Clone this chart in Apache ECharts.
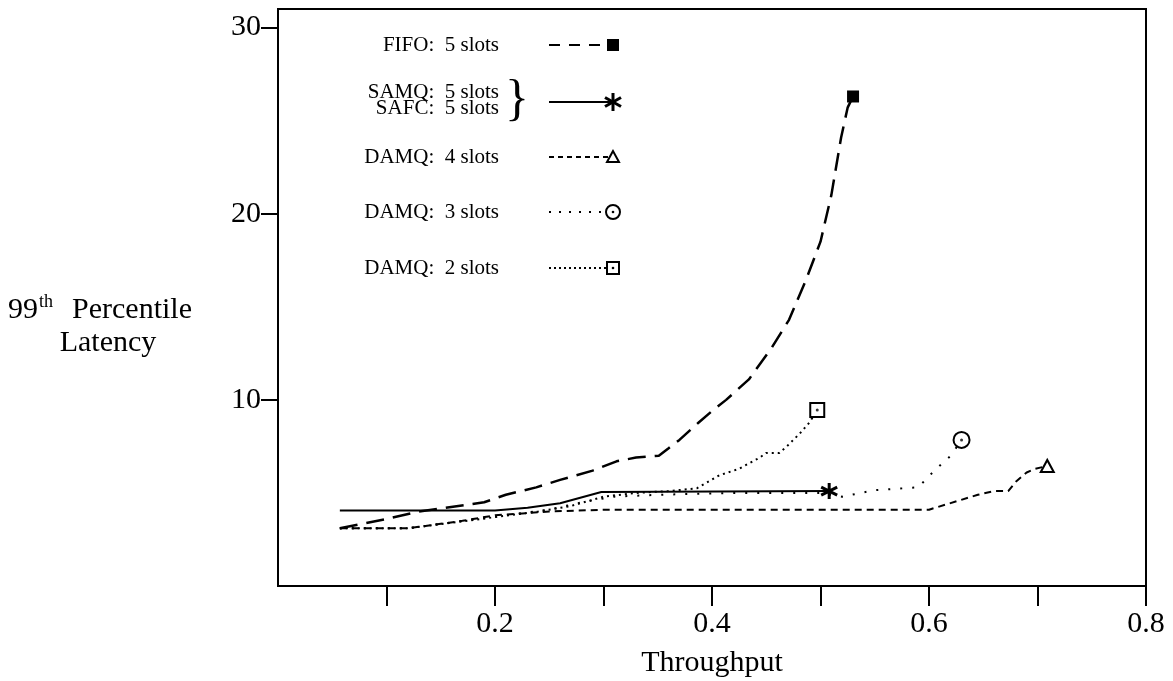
<!DOCTYPE html>
<html><head><meta charset="utf-8">
<script src="https://cdn.jsdelivr.net/npm/echarts@6/dist/echarts.min.js"></script>
<style>html,body{margin:0;padding:0;background:#fff}#c{width:1173px;height:681px}</style>
</head><body><div id="c"></div>
<script>
var seriesNames = ['FIFO: 5 slots', 'SAMQ/SAFC: 5 slots', 'DAMQ: 4 slots', 'DAMQ: 3 slots', 'DAMQ: 2 slots'];
var fifo = [[0.057,3.1],[0.1,3.6],[0.13,4.0],[0.19,4.5],[0.21,4.9],[0.238,5.3],[0.26,5.7],[0.29,6.2],[0.312,6.7],[0.33,6.9],[0.351,7.0],[0.36,7.4],[0.37,7.85],[0.388,8.8],[0.402,9.5],[0.413,10],[0.434,11.1],[0.455,12.8],[0.471,14.3],[0.487,16.5],[0.5,18.5],[0.51,21],[0.519,24.1],[0.525,25.7],[0.53,26.3]];
var samq = [[0.057,4.05],[0.2,4.05],[0.23,4.2],[0.26,4.45],[0.298,5.05],[0.508,5.1]];
var damq4 = [[0.057,3.1],[0.12,3.1],[0.17,3.5],[0.2,3.8],[0.25,4.0],[0.3,4.1],[0.6,4.1],[0.645,4.9],[0.66,5.1],[0.673,5.1],[0.68,5.6],[0.69,6.1],[0.698,6.3],[0.709,6.45]];
var damq3 = [[0.057,3.1],[0.12,3.1],[0.17,3.5],[0.21,3.8],[0.25,4.1],[0.28,4.5],[0.31,4.8],[0.35,4.9],[0.42,5.0],[0.5,5.0],[0.52,4.8],[0.55,5.15],[0.59,5.3],[0.605,6.2],[0.62,7.0],[0.63,7.85]];
var damq2 = [[0.057,3.1],[0.12,3.1],[0.16,3.4],[0.2,3.7],[0.24,4.0],[0.27,4.3],[0.3,4.8],[0.33,5.0],[0.36,5.1],[0.386,5.25],[0.407,5.95],[0.425,6.3],[0.444,6.9],[0.45,7.15],[0.462,7.15],[0.469,7.5],[0.481,8.2],[0.49,8.8],[0.497,9.46]];
var xTickValues = [0.1,0.2,0.3,0.4,0.5,0.6,0.7,0.8];
var xLabelValues = [0.2,0.4,0.6,0.8];
var yTickValues = [10,20,30];

var F = 'Liberation Serif, Times New Roman, serif';
var asterisk = 'path://M10,0L10,20M1.34,5L18.66,15M1.34,15L18.66,5';

function withEnd(data, endOpt) {
  return data.map(function (p, i) {
    if (i === data.length - 1) {
      return Object.assign({ value: p }, endOpt);
    }
    return { value: p, symbol: 'none' };
  });
}

var chart = echarts.init(document.getElementById('c'), null, { renderer: 'canvas' });
var legendTextStyle = { fill: '#000', font: '21px ' + F, textAlign: 'right', textVerticalAlign: 'middle' };
var LX = 499, L1 = 549, L2 = 613;
function legLine(y, dash) {
  return { type: 'line', shape: { x1: L1, y1: y, x2: L2, y2: y }, style: { stroke: '#000', lineWidth: 2, lineDash: dash } };
}
function seg(x1, y1, x2, y2, w) {
  return { type: 'line', shape: { x1: x1, y1: y1, x2: x2, y2: y2 }, style: { stroke: '#000', lineWidth: w } };
}
function legText(y, t) {
  return { type: 'text', x: LX, y: y, style: Object.assign({ text: t }, legendTextStyle) };
}

var option = {
  animation: false,
  backgroundColor: '#fff',
  grid: { left: 278, right: 27, top: 9, bottom: 95, show: true, borderColor: '#000', borderWidth: 2,
    containLabel: false, outerBoundsMode: 'none' },
  xAxis: {
    type: 'value', min: 0, max: 0.8, interval: 0.1,
    axisLine: { show: true, lineStyle: { color: '#000', width: 2 } },
    axisTick: { show: true, length: 20, lineStyle: { color: '#000', width: 2 }, customValues: xTickValues },
    axisLabel: { customValues: xLabelValues, margin: 23, color: '#000', fontFamily: F, fontSize: 30,
      formatter: function (v) { return v.toFixed(1); } },
    splitLine: { show: false },
    name: 'Throughput', nameLocation: 'middle', nameGap: 62,
    nameTextStyle: { color: '#000', fontFamily: F, fontSize: 30 }
  },
  yAxis: {
    type: 'value', min: 0, max: 31, interval: 10,
    axisLine: { show: true, lineStyle: { color: '#000', width: 2 } },
    axisTick: { show: true, length: 17, lineStyle: { color: '#000', width: 2 }, customValues: yTickValues },
    axisLabel: { customValues: yTickValues, margin: 17, color: '#000', fontFamily: F, fontSize: 30 },
    splitLine: { show: false }
  },
  series: [
    { name: seriesNames[0], type: 'line', data: withEnd(fifo, { symbol: 'rect', symbolSize: 12, itemStyle: { color: '#000' } }),
      lineStyle: { color: '#000', width: 2.5, type: [18, 9] }, itemStyle: { color: '#000' }, z: 3 },
    { name: seriesNames[1], type: 'line', data: withEnd(samq, { symbol: asterisk, symbolSize: 16, itemStyle: { color: 'none', borderColor: '#000', borderWidth: 3 } }),
      lineStyle: { color: '#000', width: 2 }, itemStyle: { color: '#000' }, z: 3 },
    { name: seriesNames[2], type: 'line', data: withEnd(damq4, { symbol: 'triangle', symbolSize: [13, 12], itemStyle: { color: '#fff', borderColor: '#000', borderWidth: 2 } }),
      lineStyle: { color: '#000', width: 2, type: [7, 5] }, itemStyle: { color: '#000' }, z: 2 },
    { name: seriesNames[3], type: 'line', data: withEnd(damq3, { symbol: 'circle', symbolSize: 16, itemStyle: { color: '#fff', borderColor: '#000', borderWidth: 2 } }),
      lineStyle: { color: '#000', width: 2, type: [2, 10] }, itemStyle: { color: '#000' }, z: 2 },
    { name: seriesNames[4], type: 'line', data: withEnd(damq2, { symbol: 'rect', symbolSize: 14, itemStyle: { color: '#fff', borderColor: '#000', borderWidth: 2 } }),
      lineStyle: { color: '#000', width: 2, type: [2, 4] }, itemStyle: { color: '#000' }, z: 2 },
    { type: 'scatter', symbol: 'circle', symbolSize: 3, itemStyle: { color: '#000' }, z: 5,
      data: [damq3[damq3.length - 1], damq2[damq2.length - 1]] }
  ],
  graphic: [
    legText(45, 'FIFO:  5 slots'), legLine(45, [11, 9]),
    { type: 'rect', shape: { x: L2 - 6, y: 39, width: 12, height: 12 }, style: { fill: '#000' } },
    legText(92, 'SAMQ:  5 slots'), legText(108, 'SAFC:  5 slots'),
    { type: 'text', x: 517, y: 101, style: { text: '}', fill: '#000', font: '50px ' + F, textAlign: 'center', textVerticalAlign: 'middle' } },
    legLine(102, null),
    seg(613, 93, 613, 111, 3), seg(605, 97.5, 621, 106.5, 3), seg(605, 106.5, 621, 97.5, 3),
    legText(157, 'DAMQ:  4 slots'), legLine(157, [5, 4]),
    { type: 'polygon', shape: { points: [[613, 151], [607, 162], [619, 162]] }, style: { stroke: '#000', lineWidth: 2, fill: '#fff' } },
    legText(212, 'DAMQ:  3 slots'), legLine(212, [2, 8]),
    { type: 'circle', shape: { cx: 613, cy: 212, r: 7 }, style: { stroke: '#000', lineWidth: 2, fill: '#fff' } },
    { type: 'circle', shape: { cx: 613, cy: 212, r: 1.3 }, style: { fill: '#000' } },
    legText(268, 'DAMQ:  2 slots'), legLine(268, [2, 3]),
    { type: 'rect', shape: { x: 607, y: 262, width: 12, height: 12 }, style: { stroke: '#000', lineWidth: 2, fill: '#fff' } },
    { type: 'circle', shape: { cx: 613, cy: 268, r: 1.3 }, style: { fill: '#000' } },
    { type: 'text', x: 38, y: 325, style: { text: '99', fill: '#000', font: '30px ' + F, textAlign: 'right', textVerticalAlign: 'bottom' } },
    { type: 'text', x: 39, y: 311, style: { text: 'th', fill: '#000', font: '18px ' + F, textAlign: 'left', textVerticalAlign: 'bottom' } },
    { type: 'text', x: 192, y: 325, style: { text: 'Percentile', fill: '#000', font: '30px ' + F, textAlign: 'right', textVerticalAlign: 'bottom' } },
    { type: 'text', x: 108, y: 358, style: { text: 'Latency', fill: '#000', font: '30px ' + F, textAlign: 'center', textVerticalAlign: 'bottom' } }
  ]
};
chart.setOption(option);
</script>
</body></html>
